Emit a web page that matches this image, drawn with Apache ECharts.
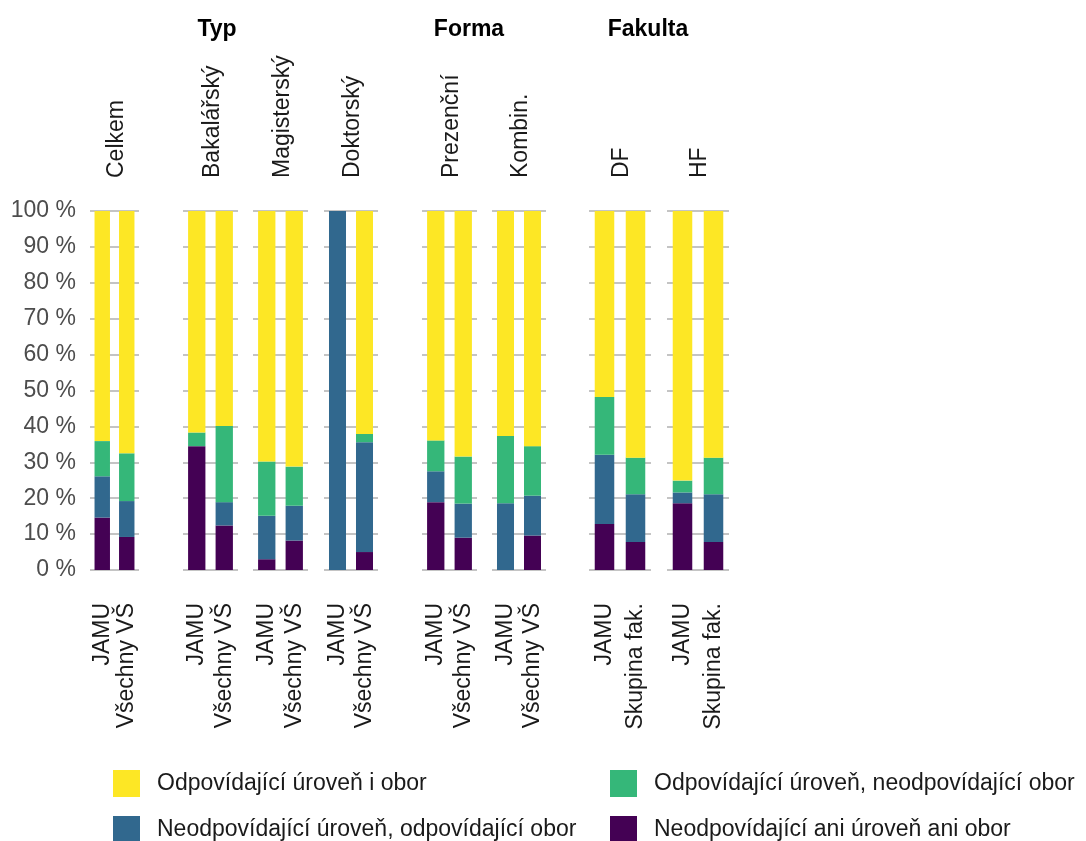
<!DOCTYPE html>
<html>
<head>
<meta charset="utf-8">
<script src="https://cdn.jsdelivr.net/npm/echarts@6/dist/echarts.min.js"></script>
<style>
html,body{margin:0;padding:0;background:#fff;}
#c{width:1086px;height:841px;}
</style>
</head>
<body>
<div id="c"></div>
<script>
// ---- data ----
const panels = ['Celkem', 'Bakalářský', 'Magisterský', 'Doktorský', 'Prezenční', 'Kombin.', 'DF', 'HF'];
const barLabels = [
  ['JAMU', 'Všechny VŠ'], ['JAMU', 'Všechny VŠ'], ['JAMU', 'Všechny VŠ'], ['JAMU', 'Všechny VŠ'],
  ['JAMU', 'Všechny VŠ'], ['JAMU', 'Všechny VŠ'], ['JAMU', 'Skupina fak.'], ['JAMU', 'Skupina fak.']
];
const groupTitles = ['Typ', 'Forma', 'Fakulta'];
const yTicks = [0, 10, 20, 30, 40, 50, 60, 70, 80, 90, 100];
const catNames = [
  'Neodpovídající ani úroveň ani obor',
  'Neodpovídající úroveň, odpovídající obor',
  'Odpovídající úroveň, neodpovídající obor',
  'Odpovídající úroveň i obor'
];
// two values per panel (JAMU, comparison), panels in order above
const neither   = [14.6, 9.2, 34.5, 12.4, 3.0, 8.2, 0, 5.0, 18.9, 9.0, 0, 9.6, 12.8, 7.8, 18.6, 7.8];
const fieldOnly = [11.5, 10.0, 0, 6.5, 12.1, 9.7, 100, 30.6, 8.6, 9.5, 18.6, 11.1, 19.3, 13.3, 3.0, 13.3];
const levelOnly = [9.8, 13.3, 3.8, 21.2, 15.1, 10.9, 0, 2.3, 8.6, 13.1, 18.7, 13.8, 16.1, 10.2, 3.3, 10.2];
const both      = [64.1, 67.5, 61.7, 59.9, 69.8, 71.2, 0, 62.1, 63.9, 68.4, 62.7, 65.5, 51.8, 68.7, 75.1, 68.7];

// ---- layout / style ----
const colors = ['#440154', '#31688E', '#35B779', '#FDE725'];
const seriesData = [neither, fieldOnly, levelOnly, both];
const panelLayout = [
  [90, 49], [183, 55], [253, 55], [324, 54], [422, 55], [492, 54], [589, 62], [667, 62]
];
const groupPos = [217, 469, 648];
const FONT = '"Liberation Sans", Arial, sans-serif';
const gridTop = 211, gridH = 359;

const grids = [], xAxes = [], yAxes = [], series = [], graphics = [];
panels.forEach((p, i) => {
  const [l, w] = panelLayout[i];
  grids.push({left: l, width: w, top: gridTop, height: gridH, containLabel: false});
  xAxes.push({
    type: 'category', gridIndex: i, data: barLabels[i],
    axisLine: {show: false}, axisTick: {show: false},
    axisLabel: {rotate: 90, interval: 0, margin: 33, fontSize: 23, color: '#1a1a1a', fontFamily: FONT}
  });
  yAxes.push({
    type: 'value', gridIndex: i, min: 0, max: 100, interval: 10,
    axisLine: {show: false}, axisTick: {show: false},
    axisLabel: {show: i === 0, formatter: '{value} %', fontSize: 23, color: '#4d4d4d', margin: 14, fontFamily: FONT},
    splitLine: {show: true, lineStyle: {color: '#c4c4c4', width: 2}}
  });
  seriesData.forEach((arr, k) => {
    series.push({
      type: 'bar', name: catNames[k], xAxisIndex: i, yAxisIndex: i, stack: 's' + i,
      barWidth: '63%', itemStyle: {color: colors[k]},
      data: arr.slice(2 * i, 2 * i + 2), animation: false
    });
  });
  graphics.push({
    type: 'text', x: l + w / 2 + 2, y: 178, rotation: Math.PI / 2,
    style: {text: p, fill: '#1a1a1a', font: '23px ' + FONT, textAlign: 'left', textVerticalAlign: 'middle'}
  });
});
groupTitles.forEach((t, j) => {
  graphics.push({
    type: 'text', x: groupPos[j], y: 30,
    style: {text: t, fill: '#000', font: 'bold 23px ' + FONT, textAlign: 'center', textVerticalAlign: 'middle'}
  });
});

const legendCommon = {
  orient: 'vertical', top: 765, height: 80, itemWidth: 27, itemHeight: 27, itemGap: 19,
  icon: 'rect', selectedMode: false,
  textStyle: {fontSize: 23, color: '#1a1a1a', fontFamily: FONT, padding: [0, 0, 0, 12]}
};

const chart = echarts.init(document.getElementById('c'), null, {renderer: 'canvas'});
chart.setOption({
  backgroundColor: '#fff',
  animation: false,
  textStyle: {fontFamily: FONT},
  grid: grids, xAxis: xAxes, yAxis: yAxes, series: series,
  legend: [
    Object.assign({}, legendCommon, {left: 108, data: [catNames[3], catNames[1]]}),
    Object.assign({}, legendCommon, {left: 605, data: [catNames[2], catNames[0]]})
  ],
  graphic: graphics
});
</script>
</body>
</html>
